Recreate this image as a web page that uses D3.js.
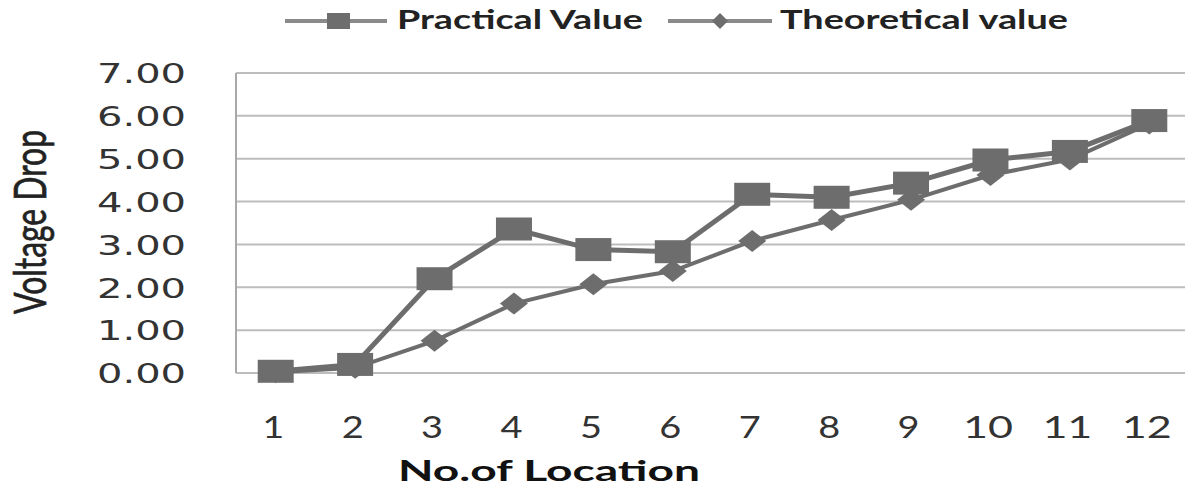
<!DOCTYPE html>
<html>
<head>
<meta charset="utf-8">
<script src="https://cdn.jsdelivr.net/npm/d3@7"></script>
<style>
  html, body { margin: 0; padding: 0; background: #fff; }
  svg { display: block; }
</style>
</head>
<body>
<div id="chart"></div>
<script>
// Data
const locations = ["1", "2", "3", "4", "5", "6", "7", "8", "9", "10", "11", "12"];
const practical = [0.04, 0.20, 2.20, 3.36, 2.88, 2.83, 4.17, 4.10, 4.43, 4.97, 5.17, 5.89];
const theoretical = [0.02, 0.12, 0.75, 1.62, 2.07, 2.38, 3.08, 3.57, 4.04, 4.62, 4.98, 5.82];
const yTicks = [0, 1, 2, 3, 4, 5, 6, 7];

const W = 1185, H = 487;
const plotLeft = 236, plotRight = 1189, plotTop = 73, plotBottom = 373;
const lineColor = "#6d6d6d";

const svg = d3.select("#chart").append("svg")
    .attr("width", W)
    .attr("height", H);

const x = d3.scalePoint()
    .domain(locations)
    .range([plotLeft, plotRight])
    .padding(0.5);

const y = d3.scaleLinear()
    .domain([0, 7])
    .range([plotBottom, plotTop]);

// gridlines
svg.append("g")
    .selectAll("line")
    .data(yTicks)
    .join("line")
    .attr("x1", plotLeft)
    .attr("x2", W)
    .attr("y1", d => y(d))
    .attr("y2", d => y(d))
    .attr("stroke", "#bdbdbd")
    .attr("stroke-width", 2);

// left axis line
svg.append("line")
    .attr("x1", plotLeft).attr("x2", plotLeft)
    .attr("y1", plotTop).attr("y2", plotBottom)
    .attr("stroke", "#a8a8a8")
    .attr("stroke-width", 2);

// y-axis tick labels (wide font, stretched)
const yAxis = svg.append("g")
    .attr("transform", `translate(186,0)`)
    .call(d3.axisLeft(y).tickValues(yTicks).tickSize(0).tickPadding(0).tickFormat(d3.format(".2f")));
yAxis.select(".domain").remove();
yAxis.selectAll("text")
    .attr("font-family", "DejaVu Sans")
    .attr("font-size", 27)
    .attr("fill", "#333")
    .attr("dy", "0.36em")
    .attr("textLength", 89)
    .attr("lengthAdjust", "spacingAndGlyphs");

// x-axis tick labels
const xAxis = svg.append("g")
    .attr("transform", `translate(0,${plotBottom})`)
    .call(d3.axisBottom(x).tickSize(0).tickPadding(0));
xAxis.select(".domain").remove();
xAxis.selectAll("text")
    .attr("font-family", "Lato")
    .attr("font-size", 31)
    .attr("fill", "#333")
    .attr("dy", "0")
    .attr("y", 65)
    .attr("dx", -3)
    .attr("textLength", d => d.length > 1 ? 50 : 22)
    .attr("lengthAdjust", "spacingAndGlyphs");

// lines
const valueLine = d3.line()
    .x((d, i) => x(locations[i]))
    .y(d => y(d));

svg.append("path")
    .datum(theoretical)
    .attr("fill", "none")
    .attr("stroke", lineColor)
    .attr("stroke-width", 4)
    .attr("d", valueLine);

svg.append("path")
    .datum(practical)
    .attr("fill", "none")
    .attr("stroke", lineColor)
    .attr("stroke-width", 5)
    .attr("d", valueLine);

// diamond markers for theoretical
svg.append("g")
    .selectAll("path")
    .data(theoretical)
    .join("path")
    .attr("transform", (d, i) => `translate(${x(locations[i])},${y(d)})`)
    .attr("d", "M0,-11L14,0L0,11L-14,0Z")
    .attr("fill", lineColor);

// square markers for practical
svg.append("g")
    .selectAll("rect")
    .data(practical)
    .join("rect")
    .attr("x", (d, i) => x(locations[i]) - 18)
    .attr("y", d => y(d) - 11.5)
    .attr("width", 36)
    .attr("height", 23)
    .attr("fill", lineColor);

// axis titles
svg.append("text")
    .attr("transform", "translate(46,222) rotate(-90)")
    .attr("text-anchor", "middle")
    .attr("font-family", "Lato")
    .attr("font-size", 44)
    .attr("fill", "#222")
    .attr("stroke", "#222")
    .attr("stroke-width", 0.7)
    .attr("textLength", 184)
    .attr("lengthAdjust", "spacingAndGlyphs")
    .text("Voltage Drop");

svg.append("text")
    .attr("x", 549)
    .attr("y", 481)
    .attr("text-anchor", "middle")
    .attr("font-family", "Lato")
    .attr("font-weight", "bold")
    .attr("font-size", 29)
    .attr("fill", "#111")
    .attr("textLength", 302)
    .attr("lengthAdjust", "spacingAndGlyphs")
    .text("No.of Location");

// legend
const legend = svg.append("g");
legend.append("line")
    .attr("x1", 285).attr("x2", 387).attr("y1", 21).attr("y2", 21)
    .attr("stroke", "#8a8a8a").attr("stroke-width", 4);
legend.append("rect")
    .attr("x", 327).attr("y", 13).attr("width", 23).attr("height", 16)
    .attr("fill", lineColor);
legend.append("text")
    .attr("x", 397).attr("y", 29)
    .attr("font-family", "Lato").attr("font-weight", "bold")
    .attr("font-size", 27).attr("fill", "#222")
    .attr("textLength", 246).attr("lengthAdjust", "spacingAndGlyphs")
    .text("Practical Value");

legend.append("line")
    .attr("x1", 668).attr("x2", 772).attr("y1", 21).attr("y2", 21)
    .attr("stroke", "#8a8a8a").attr("stroke-width", 4);
legend.append("path")
    .attr("transform", "translate(720,21)")
    .attr("d", "M0,-8L8,0L0,8L-8,0Z")
    .attr("fill", lineColor);
legend.append("text")
    .attr("x", 780).attr("y", 29)
    .attr("font-family", "Lato").attr("font-weight", "bold")
    .attr("font-size", 27).attr("fill", "#222")
    .attr("textLength", 288).attr("lengthAdjust", "spacingAndGlyphs")
    .text("Theoretical value");
</script>
</body>
</html>
